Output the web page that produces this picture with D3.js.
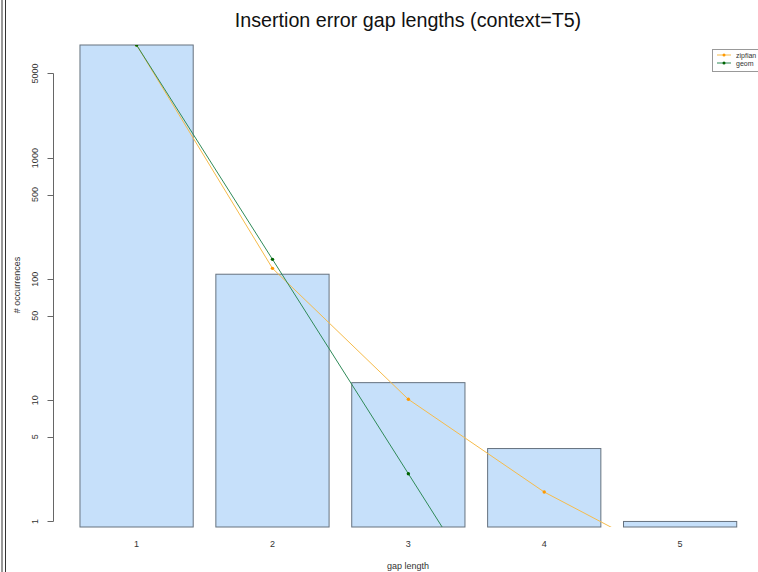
<!DOCTYPE html>
<html>
<head>
<meta charset="utf-8">
<script src="https://cdn.jsdelivr.net/npm/d3@7"></script>
<style>
  body { margin: 0; background: #fff; }
  svg { display: block; font-family: "Liberation Sans", Arial, sans-serif; }
</style>
</head>
<body>
<div id="chart"></div>
<script>
// données
var gapLengths = [1, 2, 3, 4, 5];
var occurrences = [8590, 110, 14, 4, 1];
var zipfian = [8590, 123, 10.2, 1.75, 0.45];
var geom = [8590, 146, 2.48, 0.042, 0.00072];
var yTicks = [1, 5, 10, 50, 100, 500, 1000, 5000];

var W = 758, H = 572;
var svg = d3.select("#chart").append("svg")
    .attr("width", W).attr("height", H);

// double trait vertical à gauche (bord de page)
svg.append("line").attr("x1", 2).attr("x2", 2).attr("y1", 0).attr("y2", H)
    .attr("stroke", "#333").attr("stroke-width", 1);
svg.append("line").attr("x1", 5.5).attr("x2", 5.5).attr("y1", 0).attr("y2", H)
    .attr("stroke", "#333").attr("stroke-width", 1);

// échelles façon barplot R : largeur 1, espace 0.2
var space = 0.2, barW = 1;
var xmin = space, xmax = gapLengths.length * (barW + space);
var pad = (xmax - xmin) * 0.04;
var x = d3.scaleLinear().domain([xmin - pad, xmax + pad]).range([53.7, 763]);
var base = 0.9 * d3.min(occurrences);
var y = d3.scaleLog().domain([base, d3.max(occurrences)]).range([527, 45]);

function left(i) { return space + i * (barW + space); }
function center(i) { return left(i) + barW / 2; }

svg.append("defs").append("clipPath").attr("id", "plotclip")
  .append("rect").attr("x", x.range()[0]).attr("y", 45)
  .attr("width", x.range()[1] - x.range()[0]).attr("height", 527 - 45);

// barres
svg.selectAll("rect.bar").data(occurrences).enter().append("rect")
    .attr("class", "bar")
    .attr("x", function(d, i) { return x(left(i)); })
    .attr("width", function() { return x(barW) - x(0); })
    .attr("y", function(d) { return y(d); })
    .attr("height", function(d) { return y(base) - y(d); })
    .attr("fill", "#c6e0fa")
    .attr("stroke", "#66727f")
    .attr("stroke-width", 1);

// courbes
var line = d3.line()
    .x(function(d, i) { return x(center(i)); })
    .y(function(d) { return y(d); });

var series = [
  { name: "zipfian", values: zipfian, color: "#f6bb4a" },
  { name: "geom", values: geom, color: "#2f8a58" }
];
var dotColor = { zipfian: "#ff9900", geom: "#006400" };

var plot = svg.append("g").attr("clip-path", "url(#plotclip)");
series.forEach(function(s) {
  plot.append("path").datum(s.values)
      .attr("d", line)
      .attr("fill", "none")
      .attr("stroke", s.color)
      .attr("stroke-width", 1);
  plot.selectAll(null).data(s.values).enter().append("circle")
      .attr("cx", function(d, i) { return x(center(i)); })
      .attr("cy", function(d) { return y(d); })
      .attr("r", 1.7)
      .attr("fill", dotColor[s.name]);
});

// axe y
var yAxis = svg.append("g").attr("transform", "translate(53.5,0)");
yAxis.append("line").attr("x1", 0).attr("x2", 0)
    .attr("y1", y(1)).attr("y2", y(5000)).attr("stroke", "#666");
yAxis.selectAll("line.tick").data(yTicks).enter().append("line")
    .attr("x1", -6).attr("x2", 0)
    .attr("y1", function(d) { return Math.round(y(d)) + 0.5; })
    .attr("y2", function(d) { return Math.round(y(d)) + 0.5; })
    .attr("stroke", "#666");
yAxis.selectAll("text").data(yTicks).enter().append("text")
    .attr("transform", function(d) { return "translate(-16," + y(d) + ") rotate(-90)"; })
    .attr("text-anchor", "middle")
    .attr("font-size", 9)
    .attr("fill", "#333")
    .text(function(d) { return d; });

svg.append("text")
    .attr("transform", "translate(20," + 285 + ") rotate(-90)")
    .attr("text-anchor", "middle")
    .attr("font-size", 9)
    .attr("fill", "#333")
    .text("# occurrences");

// libellés x
svg.selectAll("text.xl").data(gapLengths).enter().append("text")
    .attr("class", "xl")
    .attr("x", function(d, i) { return x(center(i)); })
    .attr("y", 547)
    .attr("text-anchor", "middle")
    .attr("font-size", 9)
    .attr("fill", "#333")
    .text(function(d) { return d; });

svg.append("text")
    .attr("x", 408).attr("y", 569)
    .attr("text-anchor", "middle")
    .attr("font-size", 9)
    .attr("fill", "#333")
    .text("gap length");

// titre
svg.append("text")
    .attr("x", 408).attr("y", 27)
    .attr("text-anchor", "middle")
    .attr("font-size", 19.7)
    .attr("fill", "#111")
    .text("Insertion error gap lengths (context=T5)");

// légende
var lg = svg.append("g");
lg.append("rect").attr("x", 712.5).attr("y", 49.5).attr("width", 60).attr("height", 22)
    .attr("fill", "#fff").attr("stroke", "#999");
series.forEach(function(s, i) {
  var yy = 55 + i * 8;
  lg.append("line").attr("x1", 717).attr("x2", 731).attr("y1", yy).attr("y2", yy)
      .attr("stroke", s.color);
  lg.append("circle").attr("cx", 724).attr("cy", yy).attr("r", 1.5).attr("fill", dotColor[s.name]);
  lg.append("text").attr("x", 736).attr("y", yy + 2.5)
      .attr("font-size", 7).attr("fill", "#333")
      .text(s.name);
});
</script>
</body>
</html>
